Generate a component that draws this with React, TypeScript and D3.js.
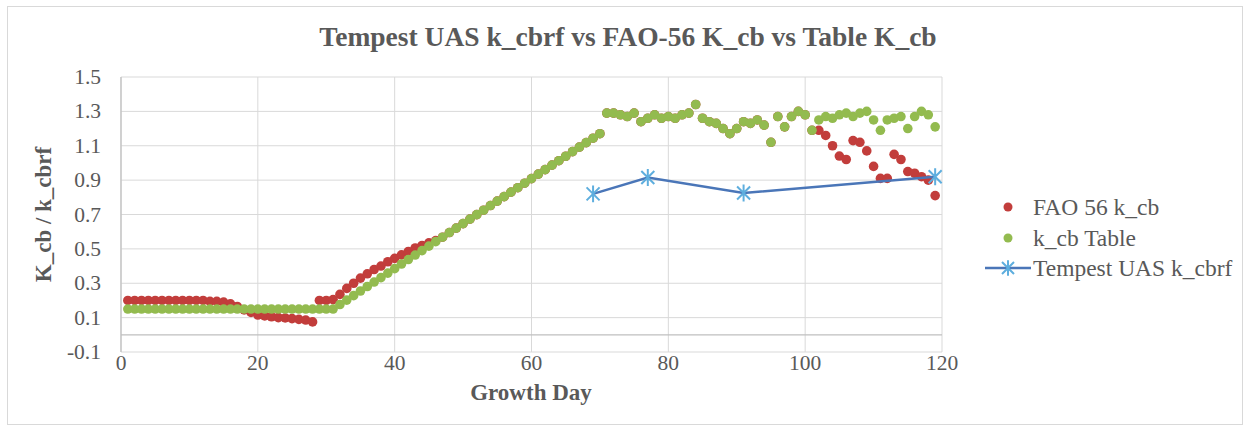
import React from "react";
import * as d3 from "d3";

// ---- data ----
const growthDays: number[] = d3.range(1, 120);

const fao56Kcb: number[] = [
  0.2, 0.2, 0.2, 0.2, 0.2, 0.2, 0.2, 0.2, 0.2, 0.2,
  0.2, 0.2, 0.195, 0.195, 0.19, 0.18, 0.165, 0.145, 0.13, 0.115,
  0.11, 0.105, 0.1, 0.098, 0.094, 0.09, 0.086, 0.075, 0.2, 0.2,
  0.205, 0.235, 0.27, 0.3, 0.33, 0.355, 0.38, 0.4, 0.425, 0.445,
  0.465, 0.485, 0.505, 0.52, 0.535, 0.548, 0.568, 0.595, 0.621, 0.647,
  0.673, 0.699, 0.725, 0.752, 0.778, 0.804, 0.83, 0.856, 0.882, 0.909,
  0.935, 0.961, 0.987, 1.013, 1.039, 1.066, 1.092, 1.118, 1.144, 1.17,
  1.29, 1.29, 1.28, 1.27, 1.29, 1.24, 1.26, 1.28, 1.26, 1.27,
  1.26, 1.28, 1.29, 1.34, 1.26, 1.24, 1.23, 1.2, 1.17, 1.2,
  1.24, 1.23, 1.25, 1.22, 1.12, 1.27, 1.21, 1.27, 1.3, 1.28,
  1.19, 1.19, 1.16, 1.1, 1.04, 1.02, 1.13, 1.12, 1.07, 0.98,
  0.91, 0.91, 1.05, 1.02, 0.95, 0.94, 0.92, 0.9, 0.81,
];

const tableKcb: number[] = [
  0.15, 0.15, 0.15, 0.15, 0.15, 0.15, 0.15, 0.15, 0.15, 0.15,
  0.15, 0.15, 0.15, 0.15, 0.15, 0.15, 0.15, 0.15, 0.15, 0.15,
  0.15, 0.15, 0.15, 0.15, 0.15, 0.15, 0.15, 0.15, 0.15, 0.15,
  0.15, 0.176, 0.202, 0.228, 0.255, 0.281, 0.307, 0.333, 0.359, 0.385,
  0.412, 0.438, 0.464, 0.49, 0.516, 0.542, 0.568, 0.595, 0.621, 0.647,
  0.673, 0.699, 0.725, 0.752, 0.778, 0.804, 0.83, 0.856, 0.882, 0.909,
  0.935, 0.961, 0.987, 1.013, 1.039, 1.066, 1.092, 1.118, 1.144, 1.17,
  1.29, 1.29, 1.28, 1.27, 1.29, 1.24, 1.26, 1.28, 1.26, 1.27,
  1.26, 1.28, 1.29, 1.34, 1.26, 1.24, 1.23, 1.2, 1.17, 1.2,
  1.24, 1.23, 1.25, 1.22, 1.12, 1.27, 1.21, 1.27, 1.3, 1.28,
  1.19, 1.25, 1.27, 1.26, 1.28, 1.29, 1.27, 1.29, 1.3, 1.25,
  1.19, 1.25, 1.26, 1.27, 1.2, 1.27, 1.3, 1.28, 1.21,
];

const uasDays: number[] = [69, 77, 91, 119];
const uasKcbrf: number[] = [0.82, 0.915, 0.825, 0.92];

const xTicks: number[] = [0, 20, 40, 60, 80, 100, 120];
const xTickLabels: string[] = ["0", "20", "40", "60", "80", "100", "120"];
const yTicks: number[] = [-0.1, 0.1, 0.3, 0.5, 0.7, 0.9, 1.1, 1.3, 1.5];
const yTickLabels: string[] = ["-0.1", "0.1", "0.3", "0.5", "0.7", "0.9", "1.1", "1.3", "1.5"];

const seriesNames: string[] = ["FAO 56 k_cb", "k_cb Table", "Tempest UAS k_cbrf"];
const titleText = "Tempest UAS k_cbrf vs FAO-56 K_cb vs Table K_cb";

// ---- style ----
const W = 1249;
const H = 427;
const FONT = "'Liberation Serif', 'Times New Roman', serif";
const TEXT = "#595959";
const GRID = "#d9d9d9";
const RED = "#c23d3b";
const GREEN = "#93bb4f";
const BLUE_LINE = "#4a76b8";
const BLUE_MARK = "#5eaede";

const x = d3.scaleLinear().domain([0, 120]).range([121, 942]);
const y = d3.scaleLinear().domain([-0.1, 1.5]).range([352, 77]);

function Star({ cx, cy, s }: { cx: number; cy: number; s: number }) {
  const d = `M${cx - s},${cy - s}L${cx + s},${cy + s}M${cx - s},${cy + s}L${cx + s},${cy - s}M${cx},${cy - s * 1.3}L${cx},${cy + s * 1.3}`;
  return <path d={d} stroke={BLUE_MARK} strokeWidth={2} fill="none" />;
}

export default function App() {
  const uasPts: [number, number][] = uasDays.map((d, i) => [d, uasKcbrf[i]]);
  const line = d3
    .line<[number, number]>()
    .x((d) => x(d[0]))
    .y((d) => y(d[1]));

  const legendX = 1008;
  const legendTextX = 1033;
  const legendY = [207, 238, 268];
  const R = 4.8;

  return (
    <svg
      width={W}
      height={H}
      style={{ position: "absolute", left: 0, top: 0, background: "#fff" }}
      fontFamily={FONT}
    >
      <rect x={0} y={0} width={W} height={H} fill="#fff" />
      <rect x={7.5} y={6.5} width={1235} height={418} fill="none" stroke="#d9d9d9" />

      {/* title */}
      <text x={628} y={46} textAnchor="middle" fontSize={27.5} fontWeight="bold" fill={TEXT}>
        {titleText}
      </text>

      {/* gridlines */}
      {yTicks.map((t) => (
        <line key={"hy" + t} x1={x(0)} x2={x(120)} y1={y(t)} y2={y(t)} stroke={GRID} strokeWidth={1} />
      ))}
      {xTicks.map((t) => (
        <line key={"vx" + t} x1={x(t)} x2={x(t)} y1={y(1.5)} y2={y(-0.1)} stroke={GRID} strokeWidth={1} />
      ))}
      {/* axes */}
      <line x1={x(0)} x2={x(120)} y1={y(0)} y2={y(0)} stroke="#bfbfbf" strokeWidth={1.2} />
      <line x1={x(0)} x2={x(0)} y1={y(1.5)} y2={y(-0.1)} stroke="#bfbfbf" strokeWidth={1.2} />

      {/* tick labels */}
      {yTicks.map((t, i) => (
        <text key={"yl" + t} x={101} y={y(t) + 7} textAnchor="end" fontSize={21.5} fill={TEXT}>
          {yTickLabels[i]}
        </text>
      ))}
      {xTicks.map((t, i) => (
        <text key={"xl" + t} x={x(t)} y={370} textAnchor="middle" fontSize={21.5} fill={TEXT}>
          {xTickLabels[i]}
        </text>
      ))}

      {/* axis titles */}
      <text x={531} y={400} textAnchor="middle" fontSize={23} fontWeight="bold" fill={TEXT}>
        Growth Day
      </text>
      <text
        transform={`translate(51, ${(y(1.5) + y(-0.1)) / 2}) rotate(-90)`}
        textAnchor="middle"
        fontSize={23}
        fontWeight="bold"
        fill={TEXT}
      >
        K_cb / k_cbrf
      </text>

      {/* series */}
      <g>
        {growthDays.map((d, i) => (
          <circle key={"r" + d} cx={x(d)} cy={y(fao56Kcb[i])} r={R} fill={RED} />
        ))}
      </g>
      <g>
        {growthDays.map((d, i) => (
          <circle key={"g" + d} cx={x(d)} cy={y(tableKcb[i])} r={R} fill={GREEN} />
        ))}
      </g>
      <path d={line(uasPts) || ""} fill="none" stroke={BLUE_LINE} strokeWidth={2.5} />
      {uasPts.map((p) => (
        <Star key={"s" + p[0]} cx={x(p[0])} cy={y(p[1])} s={6.5} />
      ))}

      {/* legend */}
      <circle cx={legendX} cy={legendY[0]} r={4.5} fill={RED} />
      <text x={legendTextX} y={legendY[0] + 7.5} fontSize={23.5} fill={TEXT}>
        {seriesNames[0]}
      </text>
      <circle cx={legendX} cy={legendY[1]} r={4.5} fill={GREEN} />
      <text x={legendTextX} y={legendY[1] + 7.5} fontSize={23.5} fill={TEXT}>
        {seriesNames[1]}
      </text>
      <line x1={985} x2={1031} y1={legendY[2]} y2={legendY[2]} stroke={BLUE_LINE} strokeWidth={2.5} />
      <Star cx={legendX} cy={legendY[2]} s={6} />
      <text x={legendTextX} y={legendY[2] + 7.5} fontSize={23.5} fill={TEXT}>
        {seriesNames[2]}
      </text>
    </svg>
  );
}
